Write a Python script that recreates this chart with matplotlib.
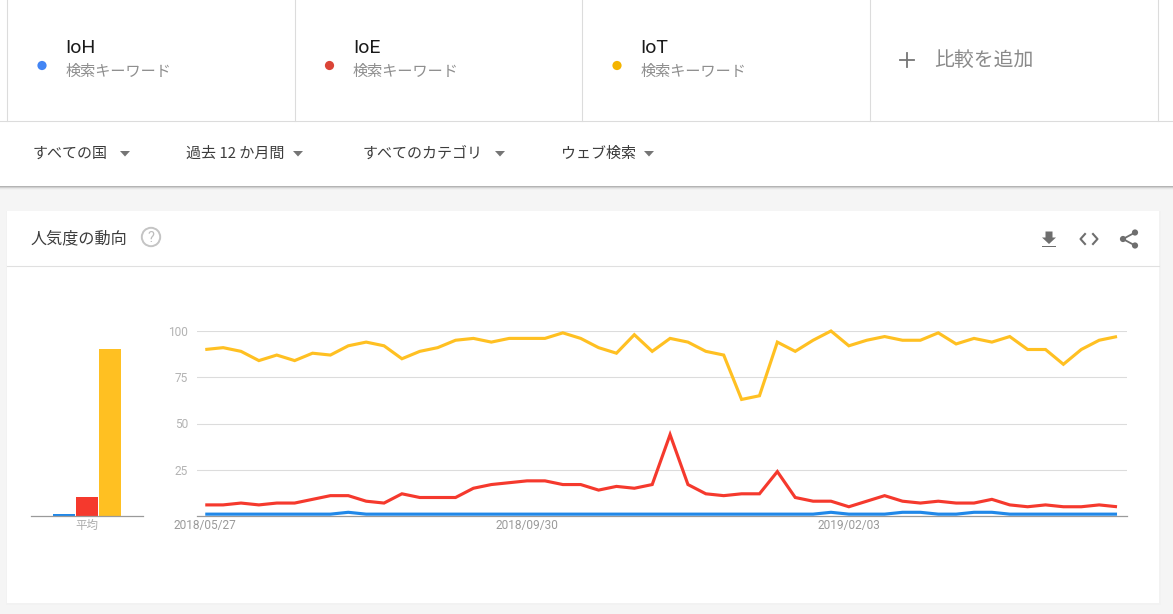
import matplotlib
matplotlib.use('Agg')
import matplotlib.pyplot as plt
import matplotlib.dates as mdates
import pandas as pd
from matplotlib.patches import Circle, Polygon, Rectangle

W, H = 1173, 614
JP = ['Noto Sans CJK JP', 'DejaVu Sans']
LATIN = ['Roboto', 'Noto Sans CJK JP']
plt.rcParams['font.family'] = LATIN

# chart data
terms = ['IoH', 'IoE', 'IoT']
term_note = '検索キーワード'
dot_colors = ['#4285f4', '#db4437', '#f4b400']
line_colors = ['#2188e8', '#f5392d', '#ffc022']

start_date = '2018-05-27'
n_weeks = 52
date_labels = ['2018/05/27', '2018/09/30', '2019/02/03']
y_ticks = [25, 50, 75, 100]

ioh = [1, 1, 1, 1, 1, 1, 1, 1, 2, 1, 1, 1, 1, 1, 1, 1, 1, 1, 1, 1, 1, 1, 1, 1, 1, 1,
       1, 1, 1, 1, 1, 1, 1, 1, 1, 2, 1, 1, 1, 2, 2, 1, 1, 2, 2, 1, 1, 1, 1, 1, 1, 1]
ioe = [6, 6, 7, 6, 7, 7, 9, 11, 11, 8, 7, 12, 10, 10, 10, 15, 17, 18, 19, 19, 17, 17, 14, 16, 15, 17,
       44, 17, 12, 11, 12, 12, 24, 10, 8, 8, 5, 8, 11, 8, 7, 8, 7, 7, 9, 6, 5, 6, 5, 5, 6, 5]
iot = [90, 91, 89, 84, 87, 84, 88, 87, 92, 94, 92, 85, 89, 91, 95, 96, 94, 96, 96, 96, 99, 96, 91, 88, 98, 89,
       96, 94, 89, 87, 63, 65, 94, 89, 95, 100, 92, 95, 97, 95, 95, 99, 93, 96, 94, 97, 90, 90, 82, 90, 95, 97]
averages = [1, 10.4, 90.5]

filters = ['すべての国', '過去 12 か月間', 'すべてのカテゴリ', 'ウェブ検索']
filter_x = [32.5, 185.5, 362.5, 561]
filter_arrow_x = [125, 298, 500, 649]

fig = plt.figure(figsize=(W / 100, H / 100), dpi=100, facecolor='#f5f5f5')


def pixel_axes(left, top, right, bottom):
    return fig.add_axes([left / W, 1 - bottom / H, (right - left) / W, (bottom - top) / H])


# page furniture, drawn in pixel coordinates
page = fig.add_axes([0, 0, 1, 1])
page.set_xlim(0, W)
page.set_ylim(H, 0)
page.axis('off')

page.add_patch(Rectangle((0, 0), W, 186, fc='white', ec='none'))
for i, c in enumerate(['#b4b4b4', '#cfcfcf', '#e6e6e6', '#f0f0f0']):
    page.add_patch(Rectangle((0, 186 + i), W, 1, fc=c, ec='none'))
page.plot([0, W], [121, 121], color='#dcdcdc', lw=0.8)
for x in [7, 295, 582, 870, 1158]:
    page.plot([x, x], [0, 121], color='#dcdcdc', lw=0.8)

for i, term in enumerate(terms):
    x0 = 66 + i * 287.5
    page.text(x0 - 0.5, 48, term, fontsize=14, color='#1a1a1a', va='center', family=LATIN)
    page.text(x0 - 0.5, 71, term_note, fontsize=10.9, color='#8f8f8f', va='center', family=JP)
    page.add_patch(Circle((x0 - 24, 65.5), 4.6, fc=dot_colors[i], ec='none'))

page.plot([900, 914], [59.5, 59.5], color='#757575', lw=1.3)
page.plot([907, 907], [52.5, 66.5], color='#757575', lw=1.3)
page.text(934, 60, '比較を追加', fontsize=14.3, color='#8a8a8a', va='center', family=JP)

for label, x, ax_x in zip(filters, filter_x, filter_arrow_x):
    page.text(x, 154, label, fontsize=10.8, color='#3c3c3c', va='center', family=JP)
    page.add_patch(Polygon([(ax_x - 5, 151), (ax_x + 5, 151), (ax_x, 156.5)], fc='#757575', ec='none'))

# card
for i, c in enumerate(['#efefef', '#f2f2f2']):
    page.add_patch(Rectangle((7 - 1, 211), 1153 + 2, 393 + i, fc=c, ec='none'))
page.add_patch(Rectangle((7, 211), 1152, 392, fc='white', ec='none'))
page.plot([7, 1159], [266, 266], color='#e0e0e0', lw=0.8)
page.text(30.5, 239, '人気度の動向', fontsize=11.6, color='#3c3c3c', va='center', family=JP)
page.add_patch(Circle((151, 237), 9.2, fc='none', ec='#c4c4c4', lw=1.4))
page.text(151, 237.5, '?', fontsize=10.5, color='#bdbdbd', ha='center', va='center', family=LATIN)

# download icon
page.add_patch(Polygon([(1045.5, 231.5), (1052.5, 231.5), (1052.5, 237.5), (1056, 237.5), (1049, 244),
                        (1042, 237.5), (1045.5, 237.5)], fc='#6e6e6e', ec='none'))
page.add_patch(Rectangle((1042, 245.5), 14, 1.8, fc='#6e6e6e', ec='none'))
# embed icon
page.plot([1085, 1080.5, 1085], [234, 239, 244], color='#6e6e6e', lw=1.5)
page.plot([1093, 1097.5, 1093], [234, 239, 244], color='#6e6e6e', lw=1.5)
# share icon
page.plot([1135, 1123, 1135], [232.5, 239, 245.5], color='#6e6e6e', lw=1.3)
for cx, cy in [(1135, 232.5), (1123, 239), (1135, 245.5)]:
    page.add_patch(Circle((cx, cy), 3.1, fc='#6e6e6e', ec='none'))

# average bars
ax_bar = pixel_axes(31, 331, 143, 516)
ax_bar.patch.set_alpha(0)
ax_bar.bar([0, 1, 2], averages, width=0.96, color=line_colors)
ax_bar.set_xlim(-1.43, 3.43)
ax_bar.set_ylim(0, 100)
ax_bar.set_yticks([])
ax_bar.set_xticks([1])
ax_bar.set_xticklabels(['平均'], fontsize=8.3, color='#ababab', family=JP)
ax_bar.tick_params(axis='x', length=0, pad=2.5)
for side in ['top', 'left', 'right']:
    ax_bar.spines[side].set_visible(False)
ax_bar.spines['bottom'].set_color('#9a9a9a')
ax_bar.spines['bottom'].set_linewidth(0.9)

# weekly lines
weeks = pd.date_range(start_date, periods=n_weeks, freq='7D')
x_num = mdates.date2num(weeks)

ax = pixel_axes(196.5, 331, 1126.5, 516)
ax.patch.set_alpha(0)
for values, color, z in [(iot, line_colors[2], 3), (ioe, line_colors[1], 4), (ioh, line_colors[0], 5)]:
    ax.plot(x_num, values, color=color, lw=2.25, clip_on=False, zorder=z,
            solid_joinstyle='miter', solid_capstyle='butt')
ax.set_xlim(x_num[0] - 0.49 * 7, x_num[-1] + 0.53 * 7)
ax.set_ylim(0, 100)
ax.set_yticks(y_ticks)
ax.set_yticklabels([str(v) for v in y_ticks], fontsize=8.6, color='#b3b3b3')
ax.set_xticks(mdates.date2num(pd.to_datetime(date_labels, format='%Y/%m/%d')))
ax.set_xticklabels(date_labels, fontsize=8.6, color='#9a9a9a')
ax.tick_params(axis='x', length=0, pad=2.5)
ax.tick_params(axis='y', length=0, pad=6)
ax.grid(axis='y', color='#dcdcdc', lw=0.8)
ax.set_axisbelow(True)
for side in ['top', 'left', 'right']:
    ax.spines[side].set_visible(False)
ax.spines['bottom'].set_color('#9a9a9a')
ax.spines['bottom'].set_linewidth(0.9)

fig.savefig('out.png', dpi=100, facecolor=fig.get_facecolor())
